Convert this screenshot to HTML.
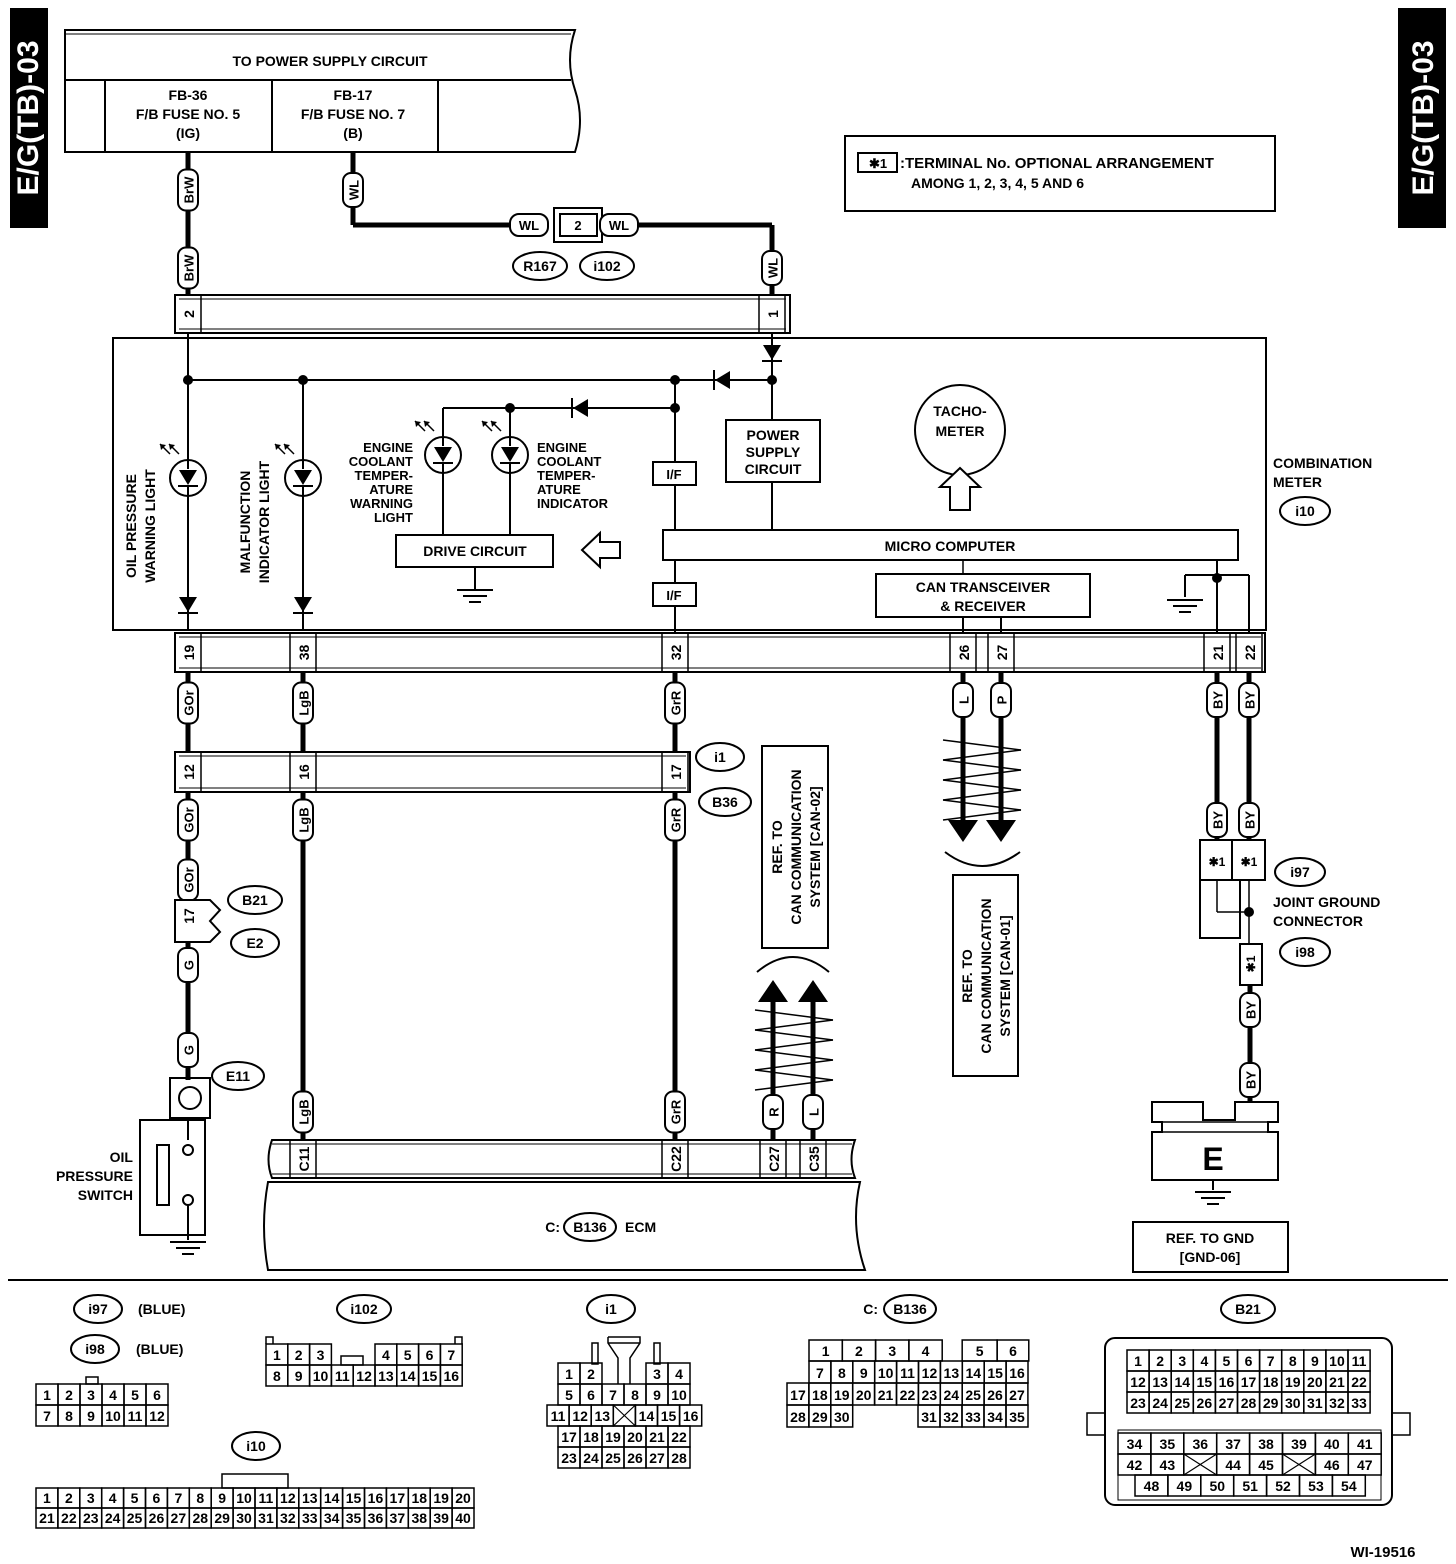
<!DOCTYPE html>
<html><head><meta charset="utf-8"><style>
html,body{margin:0;padding:0;background:#fff;}
svg{display:block;}
text{font-family:"Liberation Sans",sans-serif;font-weight:bold;fill:#000;}
</style></head><body>
<svg id="s" width="1456" height="1564" viewBox="0 0 1456 1564" xmlns="http://www.w3.org/2000/svg"></svg>
<script>
var o=[];
function P(s){o.push(s);}
function L(x1,y1,x2,y2,w){P('<line x1="'+x1+'" y1="'+y1+'" x2="'+x2+'" y2="'+y2+'" stroke="#000" stroke-width="'+(w||2)+'"/>');}
function R(x,y,w,h,sw,fill){P('<rect x="'+x+'" y="'+y+'" width="'+w+'" height="'+h+'" fill="'+(fill||'none')+'" stroke="#000" stroke-width="'+(sw||2)+'"/>');}
function T(x,y,t,fs,anc){P('<text x="'+x+'" y="'+y+'" font-size="'+(fs||14)+'" text-anchor="'+(anc||'middle')+'">'+t+'</text>');}
function VT(x,y,t,fs){P('<text transform="translate('+x+','+y+') rotate(-90)" font-size="'+(fs||14)+'" text-anchor="middle" dominant-baseline="central">'+t+'</text>');}
function dot(x,y){P('<circle cx="'+x+'" cy="'+y+'" r="5" fill="#000"/>');}
function oval(x,y,t,w){w=w||28;P('<ellipse cx="'+x+'" cy="'+y+'" rx="'+w+'" ry="14" fill="#fff" stroke="#000" stroke-width="2"/>');T(x,y+5,t,14);}
function vlab(x,y,t){var h=Math.max(34,t.length*11+8);P('<rect x="'+(x-10)+'" y="'+(y-h/2)+'" width="20" height="'+h+'" rx="8" fill="#fff" stroke="#000" stroke-width="2"/>');VT(x+1,y,t,13);}
function diodeD(x,y){P('<polygon points="'+(x-9)+','+(y-8)+' '+(x+9)+','+(y-8)+' '+x+','+(y+7)+'" fill="#000"/>');L(x-10,y+8,x+10,y+8,2);}
function diodeL(x,y){P('<polygon points="'+(x+8)+','+(y-9)+' '+(x+8)+','+(y+9)+' '+(x-7)+','+y+'" fill="#000"/>');L(x-8,y-10,x-8,y+10,2);}
function led(x,y){P('<circle cx="'+x+'" cy="'+y+'" r="18" fill="#fff" stroke="#000" stroke-width="2"/>');L(x,y-18,x,y-9);L(x,y+9,x,y+18);P('<polygon points="'+(x-9)+','+(y-8)+' '+(x+9)+','+(y-8)+' '+x+','+(y+7)+'" fill="#000"/>');L(x-10,y+8,x+10,y+8);
 for(var k=0;k<2;k++){var a=x-28+k*9,b=y-34;L(a,b,a+10,b+10,1.5);P('<polygon points="'+a+','+b+' '+(a+6)+','+(b+1)+' '+(a+1)+','+(b+6)+'" fill="#000"/>');}}
function gnd(x,y){L(x-18,y,x+18,y);L(x-12,y+6,x+12,y+6);L(x-6,y+12,x+6,y+12);}
function term(x,y1,y2,t){L(x-13,y1,x-13,y2,1.5);L(x+13,y1,x+13,y2,1.5);VT(x+1,(y1+y2)/2,t,14);}
function cells(x0,y,w,h,arr){var x=x0;for(var i=0;i<arr.length;i++){var c=arr[i];var cw=w*(c.s||1);if(c.t!==null){R(x,y,cw,h,1.5);if(c.t==='X'){L(x,y,x+cw,y+h,1.2);L(x+cw,y,x,y+h,1.2);}else T(x+cw/2,y+h-5,c.t,14);}x+=cw;}}
function seq(a,b){var r=[];for(var i=a;i<=b;i++)r.push({t:''+i});return r;}
function thick(x1,y1,x2,y2){L(x1,y1,x2,y2,5);}

P('<rect x="10" y="8" width="38" height="220" fill="#000"/>');P('<rect x="1398" y="8" width="48" height="220" fill="#000"/>');
P('<text transform="translate(38,118) rotate(-90)" font-size="30" text-anchor="middle" style="fill:#fff">E/G(TB)-03</text>');
P('<text transform="translate(1433,118) rotate(-90)" font-size="30" text-anchor="middle" style="fill:#fff">E/G(TB)-03</text>');

P('<path d="M65,30 L575,30 Q565,60 575,90 Q585,120 575,152 L65,152 Z" fill="none" stroke="#000" stroke-width="2"/>');
L(65,34,571,34,1);L(65,80,571,80,2);L(105,80,105,152);L(272,80,272,152);L(438,80,438,152);
T(330,66,'TO POWER SUPPLY CIRCUIT');
T(188,100,'FB-36');T(188,119,'F/B FUSE NO. 5');T(188,138,'(IG)');
T(353,100,'FB-17');T(353,119,'F/B FUSE NO. 7');T(353,138,'(B)');

R(845,136,430,75);R(858,153,39,19);T(878,168,'✱1',13);T(900,168,':TERMINAL No. OPTIONAL ARRANGEMENT',15,'start');T(911,188,'AMONG 1, 2, 3, 4, 5 AND 6',14,'start');

thick(188,152,188,295);vlab(188,190,'BrW');vlab(188,268,'BrW');
thick(353,152,353,225);thick(353,225,510,225);thick(638,225,772,225);thick(772,225,772,295);
vlab(353,190,'WL');vlab(772,268,'WL');
P('<rect x="510" y="214" width="38" height="22" rx="9" fill="#fff" stroke="#000" stroke-width="2"/>');T(529,230,'WL',13);
R(554,208,48,34,2);R(560,214,37,22,2);T(578,230,'2',13);
P('<rect x="600" y="214" width="38" height="22" rx="9" fill="#fff" stroke="#000" stroke-width="2"/>');T(619,230,'WL',13);
oval(540,266,'R167',27);oval(607,266,'i102',27);

R(175,295,615,38,2);L(179,299,786,299,1);L(179,329,786,329,1);term(188,295,333,'2');term(772,295,333,'1');

R(113,338,1153,292,2);
L(188,333,188,630);L(303,380,303,630);L(188,380,772,380);
diodeL(722,380);dot(188,380);dot(303,380);dot(675,380);dot(772,380);
L(772,333,772,420);diodeD(772,353);
L(443,408,675,408);diodeL(580,408);dot(510,408);dot(675,408);
L(675,380,675,633);
L(443,408,443,535);L(510,408,510,535);
led(188,478);led(303,478);led(443,455);led(510,455);
diodeD(188,605);diodeD(303,605);
R(396,535,157,32);T(475,556,'DRIVE CIRCUIT');L(475,567,475,590);gnd(475,590);
P('<polygon points="582,550 600,533 600,542 620,542 620,558 600,558 600,567" fill="#fff" stroke="#000" stroke-width="2"/>');
R(653,462,43,23,2,'#fff');T(674,479,'I/F',13);R(653,583,43,23,2,'#fff');T(674,600,'I/F',13);
R(726,420,94,62,2,'#fff');T(773,440,'POWER',14);T(773,457,'SUPPLY',14);T(773,474,'CIRCUIT',14);
L(772,482,772,530);
P('<circle cx="960" cy="430" r="45" fill="#fff" stroke="#000" stroke-width="2"/>');T(960,416,'TACHO-');T(960,436,'METER');
P('<polygon points="960,468 980,487 970,487 970,510 950,510 950,487 940,487" fill="#fff" stroke="#000" stroke-width="2"/>');
R(663,530,575,30,2,'#fff');T(950,551,'MICRO COMPUTER');
L(963,560,963,574,1.5);R(876,574,214,43,2,'#fff');T(983,592,'CAN TRANSCEIVER');T(983,611,'&amp; RECEIVER');
L(963,617,963,633);L(1001,617,1001,633);
L(1185,575,1249,575);L(1185,575,1185,597);gnd(1185,600);L(1217,560,1217,633);L(1249,575,1249,633);dot(1217,578);
T(1273,468,'COMBINATION',14,'start');T(1273,487,'METER',14,'start');oval(1305,511,'i10',25);
VT(131,526,'OIL PRESSURE');VT(150,526,'WARNING LIGHT');
VT(245,522,'MALFUNCTION');VT(264,522,'INDICATOR LIGHT');
T(413,452,'ENGINE',13,'end');T(413,466,'COOLANT',13,'end');T(413,480,'TEMPER-',13,'end');T(413,494,'ATURE',13,'end');T(413,508,'WARNING',13,'end');T(413,522,'LIGHT',13,'end');
T(537,452,'ENGINE',13,'start');T(537,466,'COOLANT',13,'start');T(537,480,'TEMPER-',13,'start');T(537,494,'ATURE',13,'start');T(537,508,'INDICATOR',13,'start');

R(175,633,1090,39,2);L(179,637,1261,637,1);L(179,668,1261,668,1);
term(188,633,672,'19');term(303,633,672,'38');term(675,633,672,'32');term(963,633,672,'26');term(1001,633,672,'27');term(1217,633,672,'21');term(1249,633,672,'22');

thick(188,672,188,752);thick(303,672,303,752);thick(675,672,675,752);
vlab(188,703,'GOr');vlab(303,703,'LgB');vlab(675,703,'GrR');
R(175,752,515,40,2);L(179,756,686,756,1);L(179,788,686,788,1);term(188,752,792,'12');term(303,752,792,'16');term(675,752,792,'17');
oval(720,757,'i1',24);oval(725,802,'B36',26);
thick(188,792,188,900);vlab(188,820,'GOr');vlab(188,880,'GOr');
P('<path d="M175,900 L210,900 L220,910 L210,921 L220,932 L210,942 L175,942 Z" fill="#fff" stroke="#000" stroke-width="2"/>');VT(189,916,'17',14);
oval(255,900,'B21',27);oval(255,943,'E2',24);
thick(188,942,188,1080);vlab(188,965,'G');vlab(188,1050,'G');
R(170,1078,40,40,2);P('<circle cx="190" cy="1098" r="11" fill="#fff" stroke="#000" stroke-width="2"/>');oval(238,1076,'E11',26);
R(140,1120,65,115,2);L(188,1118,188,1140);P('<circle cx="188" cy="1150" r="5" fill="#fff" stroke="#000" stroke-width="2"/>');P('<circle cx="188" cy="1200" r="5" fill="#fff" stroke="#000" stroke-width="2"/>');L(188,1205,188,1240);R(157,1145,12,60,2);gnd(188,1242);
T(133,1162,'OIL',14,'end');T(133,1181,'PRESSURE',14,'end');T(133,1200,'SWITCH',14,'end');
thick(303,792,303,1140);vlab(303,820,'LgB');vlab(303,1112,'LgB');
thick(675,792,675,1140);vlab(675,820,'GrR');vlab(675,1112,'GrR');
P('<path d="M272,1140 L855,1140 Q848,1160 855,1178 L272,1178 Q265,1160 272,1140 Z" fill="none" stroke="#000" stroke-width="2"/>');L(272,1144,852,1144,1);L(272,1174,852,1174,1);
term(303,1140,1178,'C11');term(675,1140,1178,'C22');term(773,1140,1178,'C27');term(813,1140,1178,'C35');
P('<path d="M268,1182 L860,1182 Q850,1226 865,1270 L268,1270 Q260,1226 268,1182 Z" fill="none" stroke="#000" stroke-width="2"/>');
T(560,1232,'C:',14,'end');oval(590,1227,'B136',26);T(625,1232,'ECM',14,'start');
R(762,746,66,202,2);VT(777,847,'REF. TO');VT(796,847,'CAN COMMUNICATION');VT(815,847,'SYSTEM [CAN-02]');
P('<path d="M757,972 Q793,942 829,972" fill="none" stroke="#000" stroke-width="2"/>');
thick(773,1000,773,1140);thick(813,1000,813,1140);
P('<polygon points="773,980 758,1002 788,1002" fill="#000"/><polygon points="813,980 798,1002 828,1002" fill="#000"/>');
for(var k=0;k<4;k++){var yy=1010+k*20;L(755,yy,833,yy+10,1.5);L(833,yy+10,755,yy+20,1.5);}
vlab(773,1112,'R');vlab(813,1112,'L');
thick(963,672,963,820);thick(1001,672,1001,820);vlab(963,700,'L');vlab(1001,700,'P');
P('<polygon points="963,842 948,820 978,820" fill="#000"/><polygon points="1001,842 986,820 1016,820" fill="#000"/>');
for(var k=0;k<4;k++){var yy=740+k*20;L(943,yy,1021,yy+10,1.5);L(1021,yy+10,943,yy+20,1.5);}
P('<path d="M945,852 Q982,880 1020,852" fill="none" stroke="#000" stroke-width="2"/>');
R(953,875,65,201,2);VT(967,976,'REF. TO');VT(986,976,'CAN COMMUNICATION');VT(1005,976,'SYSTEM [CAN-01]');
thick(1217,672,1217,840);thick(1249,672,1249,840);vlab(1217,700,'BY');vlab(1249,700,'BY');vlab(1217,820,'BY');vlab(1249,820,'BY');
R(1200,840,65,40,2);L(1232,840,1232,880,2);T(1217,866,'✱1',12);T(1249,866,'✱1',12);
R(1200,880,40,58,2);L(1217,880,1217,912,1.5);L(1217,912,1249,912,1.5);L(1249,880,1249,944,1.5);dot(1249,912);
R(1240,944,22,41,2);VT(1251,964,'✱1',12);
thick(1250,985,1250,1102);vlab(1250,1010,'BY');vlab(1250,1080,'BY');
oval(1300,872,'i97',25);T(1273,907,'JOINT GROUND',14,'start');T(1273,926,'CONNECTOR',14,'start');oval(1305,952,'i98',25);
P('<path d="M1152,1102 L1203,1102 L1203,1120 L1235,1120 L1235,1102 L1278,1102 L1278,1122 L1268,1122 L1268,1132 L1278,1132 L1278,1180 L1152,1180 L1152,1132 L1162,1132 L1162,1122 L1152,1122 Z" fill="none" stroke="#000" stroke-width="2"/>');
L(1162,1122,1268,1122,1.5);L(1162,1132,1268,1132,1.5);
T(1213,1170,'E',32);L(1213,1180,1213,1190);gnd(1213,1192);
R(1133,1222,155,50,2);T(1210,1243,'REF. TO GND');T(1210,1262,'[GND-06]');

L(8,1280,1448,1280,2);

oval(98,1309,'i97',24);T(138,1314,'(BLUE)',14,'start');oval(95,1349,'i98',24);T(136,1354,'(BLUE)',14,'start');
R(86,1377,12,7,1.5);cells(36,1384,22,21,seq(1,6));cells(36,1405,22,21,seq(7,12));
oval(364,1309,'i102',27);
P('<path d="M266,1344 L266,1337 L273,1337 L273,1344 M455,1344 L455,1337 L462,1337 L462,1344" fill="none" stroke="#000" stroke-width="1.5"/>');
cells(266,1344,21.8,21,[{t:'1'},{t:'2'},{t:'3'},{t:null,s:2},{t:'4'},{t:'5'},{t:'6'},{t:'7'}]);R(341,1356,22,9,1.5);
cells(266,1365,21.8,21,seq(8,16));
oval(256,1446,'i10',24);R(222,1474,66,14,1.5);cells(36,1488,21.9,20,seq(1,20));cells(36,1508,21.9,20,seq(21,40));
oval(611,1309,'i1',24);
R(592,1343,6,21,1.5);R(654,1343,6,21,1.5);P('<path d="M608,1337 L640,1337 L640,1343 L630,1358 L630,1384 M608,1343 L640,1343 M608,1337 L608,1343 L618,1358 L618,1384" fill="none" stroke="#000" stroke-width="1.5"/>');
cells(558,1363,22,21,[{t:'1'},{t:'2'},{t:null,s:2},{t:'3'},{t:'4'}]);
cells(558,1384,22,21,seq(5,10));
cells(547,1405,22.1,21,[{t:'11'},{t:'12'},{t:'13'},{t:'X'},{t:'14'},{t:'15'},{t:'16'}]);
cells(558,1426,22,21,seq(17,22));cells(558,1447,22,21,seq(23,28));
T(878,1314,'C:',14,'end');oval(910,1309,'B136',26);
cells(809,1340,33.3,21,[{t:'1'},{t:'2'},{t:'3'},{t:'4'},{t:null,s:0.6},{t:'5',s:1.05},{t:'6',s:0.95}]);
cells(809,1361,21.9,22,seq(7,16));cells(787,1383,21.9,22,seq(17,27));
cells(787,1405,21.9,22,seq(28,30));cells(918,1405,22,22,seq(31,35));
oval(1248,1309,'B21',27);
P('<rect x="1105" y="1338" width="287" height="167" rx="10" fill="none" stroke="#000" stroke-width="2"/>');
R(1087,1413,18,22,1.5);R(1392,1413,18,22,1.5);
cells(1127,1350,22.1,21,seq(1,11));cells(1127,1371,22.1,21,seq(12,22));cells(1127,1392,22.1,21,seq(23,33));
R(1118,1430,263,70,1);
cells(1118,1433,32.9,21,seq(34,41));
cells(1118,1454,32.9,21,[{t:'42'},{t:'43'},{t:'X'},{t:'44'},{t:'45'},{t:'X'},{t:'46'},{t:'47'}]);
cells(1135,1475,32.9,21,seq(48,54));
T(1383,1557,'WI-19516',15);

document.getElementById('s').innerHTML=o.join('');
</script>
</body></html>
